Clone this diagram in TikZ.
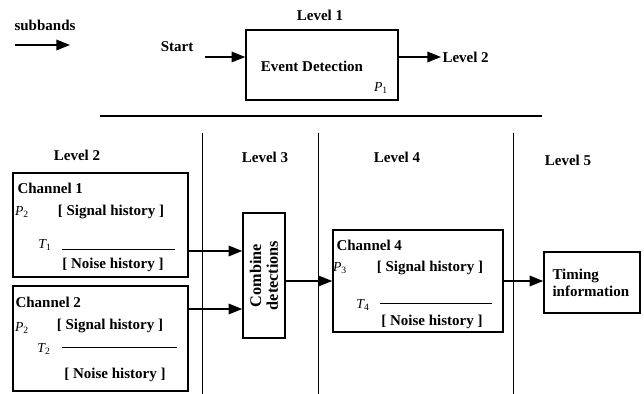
\documentclass[tikz,border=0pt]{standalone}
\usepackage{fontspec}
\setmainfont{Liberation Serif}
\usetikzlibrary{arrows.meta,positioning}

\begin{document}
\begin{tikzpicture}[
    x=0.8pt, y=-0.8pt,
    lbl/.style={font=\fontsize{12}{14}\selectfont\bfseries, inner sep=1pt},
    sym/.style={font=\fontsize{11}{13}\selectfont\itshape, inner sep=1pt},
    box/.style={rectangle, draw, line width=1.2pt, lbl},
    arrow/.style={-{Triangle[length=11pt,width=8.5pt]}, line width=1.2pt},
    sep/.style={line width=0.6pt}
]
\useasboundingbox (0,0) rectangle (644,394);

% top row
\node[lbl] (subbands) at (45,25) {subbands};
\coordinate (sbstart) at (15,45);
\coordinate (sbend) at (70,45);
\draw[arrow] (sbstart) -- (sbend);

\node[lbl] (lvone) at (320,15) {Level 1};
\node[box, minimum width=121.6pt, minimum height=56pt] (event) at (322,65) {};
\node[lbl] (eventtxt) at (312,66) {Event Detection};
\node[sym] (pone) at (381,88) {P\textsubscript{\upshape 1}};
\node[lbl] (start) at (177,47) {Start};
\coordinate (startarr) at (205,57);
\draw[arrow] (startarr) -- (startarr -| event.west);
\node[lbl, anchor=west] (lvtwoout) at (441,57) {Level 2};
\draw[arrow] (event.east |- startarr) -- (lvtwoout.west);

\coordinate (ruleA) at (100,116);
\coordinate (ruleB) at (542,116);
\draw[line width=1.2pt] (ruleA) -- (ruleB);

% level separators
\foreach \x in {202,318,513}
    \draw[sep] (\x,133) -- (\x,394);

\node[lbl] (lvtwo) at (77,155) {Level 2};
\node[lbl] (lvthree) at (265,157) {Level 3};
\node[lbl] (lvfour) at (397,157) {Level 4};
\node[lbl] (lvfive) at (568,160) {Level 5};

% level 2 channels
\node[box, minimum width=140pt, minimum height=83.2pt] (ch1) at (100.5,225) {};
\node[lbl, anchor=west] (ch1name) at (16,188) {Channel 1};
\node[sym] (ch1p) at (22,212) {P\textsubscript{\upshape 2}};
\node[lbl] (ch1sig) at (111,212) {[ Signal history ]};
\node[sym] (ch1t) at (45,245) {T\textsubscript{\upshape 1}};
\draw[line width=0.6pt] (62,249) -- (175,249);
\node[lbl] (ch1noise) at (113,265) {[ Noise history ]};

\node[box, minimum width=140pt, minimum height=84pt] (ch2) at (100.5,338.5) {};
\node[lbl, anchor=west] (ch2name) at (14,302) {Channel 2};
\node[sym] (ch2p) at (22,328) {P\textsubscript{\upshape 2}};
\node[lbl] (ch2sig) at (110,326) {[ Signal history ]};
\node[sym] (ch2t) at (44,349) {T\textsubscript{\upshape 2}};
\draw[line width=0.6pt] (62,347) -- (177,347);
\node[lbl] (ch2noise) at (115,375) {[ Noise history ]};

% level 3
\node[box, minimum width=100pt, minimum height=33.6pt, rotate=90, align=center,
      font=\fontsize{13}{13.5}\selectfont\bfseries] (comb) at (264,275.5) {Combine\\detections};

% level 4
\node[box, minimum width=136pt, minimum height=81.6pt] (ch4) at (418,281) {};
\node[lbl, anchor=west] (ch4name) at (335,245) {Channel 4};
\node[sym] (ch4p) at (340,268) {P\textsubscript{\upshape 3}};
\node[lbl] (ch4sig) at (430,268) {[ Signal history ]};
\node[sym] (ch4t) at (363,305) {T\textsubscript{\upshape 4}};
\draw[line width=0.6pt] (380,303) -- (492,303);
\node[lbl] (ch4noise) at (432,322) {[ Noise history ]};

% level 5
\node[box, minimum width=76.8pt, minimum height=48.8pt] (timing) at (592,282.5) {};
\node[lbl, anchor=west, align=left] (timingtxt) at (551,283) {Timing\\information};

% connectors
\coordinate (row1) at (0,251);
\coordinate (row2) at (0,309);
\draw[arrow] (ch1.east |- row1) -- (comb.north |- row1);
\draw[arrow] (ch2.east |- row2) -- (comb.north |- row2);
\draw[arrow] (comb.south |- ch4.west) -- (ch4.west);
\draw[arrow] (ch4.east) -- (timing.west |- ch4.east);
\end{tikzpicture}
\end{document}
